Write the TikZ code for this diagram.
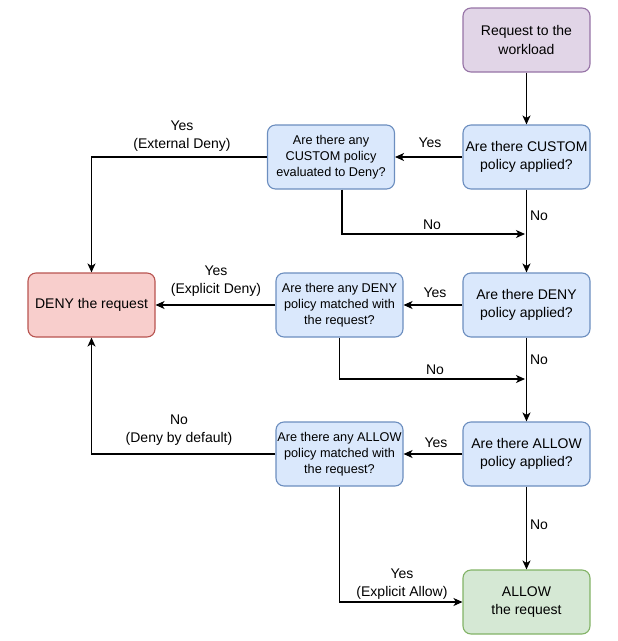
\documentclass[tikz,border=0pt]{standalone}
\usepackage{fontspec}
\setmainfont{Liberation Sans}
\usetikzlibrary{arrows.meta,calc}

\definecolor{startfill}{HTML}{E1D5E7}
\definecolor{startline}{HTML}{9673A6}
\definecolor{askfill}{HTML}{DAE8FC}
\definecolor{askline}{HTML}{6C8EBF}
\definecolor{denyfill}{HTML}{F8CECC}
\definecolor{denyline}{HTML}{B85450}
\definecolor{allowfill}{HTML}{D5E8D4}
\definecolor{allowline}{HTML}{82B366}

\begin{document}
\begin{tikzpicture}[x=1pt,y=-1pt,
  box/.style={draw,rounded corners=8pt,line width=1.1pt,minimum width=127pt,
    minimum height=64pt,align=center,inner sep=1pt,
    font=\fontsize{14}{18.3}\selectfont},
  ask/.style={box,fill=askfill,draw=askline},
  askany/.style={ask,font=\fontsize{12.7}{15.8}\selectfont},
  flow/.style={line width=1.1pt,-{Stealth[length=9pt,width=8pt,inset=2.5pt]}},
  lbl/.style={align=center,inner sep=0pt,font=\fontsize{14}{18}\selectfont}]
\useasboundingbox (0,0) rectangle (618,641);
%boxes
\node [box,fill=startfill,draw=startline] (req) at (526.5,40) {Request to the\\workload};
\node [ask] (capp) at (526.5,157) {Are there CUSTOM\\policy applied?};
\node [askany] (ceval) at (331,157) {Are there any\\CUSTOM policy\\evaluated to Deny?};
\node [box,fill=denyfill,draw=denyline] (deny) at (91.5,305) {DENY the request};
\node [askany] (dmatch) at (339.5,305) {Are there any DENY\\policy matched with\\the request?};
\node [ask] (dapp) at (526.5,305) {Are there DENY\\policy applied?};
\node [askany] (amatch) at (339.5,454) {Are there any ALLOW\\policy matched with\\the request?};
\node [ask] (aapp) at (526.5,454) {Are there ALLOW\\policy applied?};
\node [box,fill=allowfill,draw=allowline] (allow) at (526.5,602) {ALLOW\\the request};
%joins on the main line
\coordinate (cjoin) at (525,234);
\coordinate (djoin) at (525,379);
%main line
\draw [flow] (req) -- (capp);
\draw [flow] (capp) -- (dapp);
\node [lbl] at (539,216) {No};
\draw [flow] (dapp) -- (aapp);
\node [lbl] at (539,360) {No};
\draw [flow] (aapp) -- (allow);
\node [lbl] at (539,525) {No};
%custom
\draw [flow] (capp) -- (ceval);
\node [lbl] at (430,143) {Yes};
\draw [flow] ($(ceval.south)+(11,0)$) |- (cjoin);
\node [lbl] at (432,225) {No};
\draw [flow] (ceval.west) -| (deny.north);
\node [lbl] at (182,136) {Yes\\(External Deny)};
%deny
\draw [flow] (dapp) -- (dmatch);
\node [lbl] at (435,293) {Yes};
\draw [flow] (dmatch) -- (deny);
\node [lbl] at (216,281) {Yes\\(Explicit Deny)};
\draw [flow] (dmatch.south) |- (djoin);
\node [lbl] at (435,370) {No};
%allow
\draw [flow] (aapp) -- (amatch);
\node [lbl] at (436,443) {Yes};
\draw [flow] (amatch.west) -| (deny.south);
\node [lbl] at (179,430) {No\\(Deny by default)};
\draw [flow] (amatch.south) |- (allow.west);
\node [lbl] at (402,584) {Yes\\(Explicit Allow)};
\end{tikzpicture}
\end{document}
